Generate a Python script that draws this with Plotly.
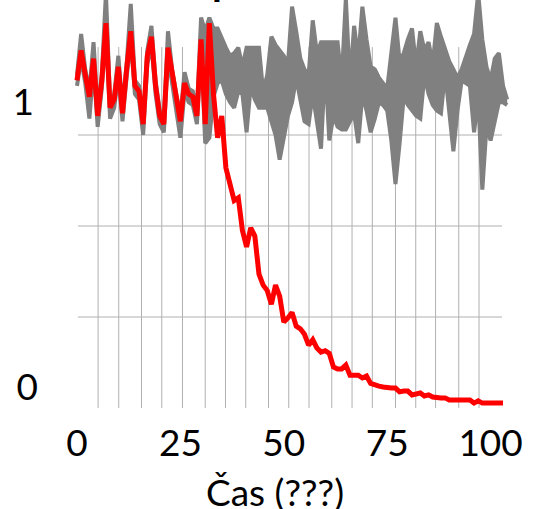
import plotly.graph_objects as go

# ---------------- data ----------------
time_red = list(range(0, 104))
time_band = list(range(0, 105))

red = [1.20, 1.31, 1.22, 1.14, 1.28, 1.07, 1.20, 1.41, 1.10, 1.13,
       1.25, 1.08, 1.24, 1.38, 1.18, 1.16, 1.04, 1.29, 1.36, 1.18,
       1.07, 1.04, 1.32, 1.22, 1.13, 1.05, 1.19, 1.15, 1.14, 1.07,
       1.35, 1.04, 1.41, 1.15, 0.99, 1.07, 0.88, 0.82, 0.76, 0.77,
       0.65, 0.59, 0.66, 0.63, 0.49, 0.45, 0.43, 0.38, 0.45, 0.41,
       0.315, 0.33, 0.35, 0.30, 0.29, 0.27, 0.23, 0.25, 0.22, 0.205,
       0.21, 0.20, 0.15, 0.143, 0.143, 0.157, 0.12, 0.12, 0.12, 0.11,
       0.117, 0.09, 0.084, 0.08, 0.077, 0.073, 0.073, 0.073, 0.059, 0.062,
       0.062, 0.048, 0.05, 0.055, 0.044, 0.048, 0.04, 0.037, 0.037, 0.037,
       0.029, 0.029, 0.029, 0.029, 0.029, 0.029, 0.018, 0.026, 0.018, 0.018,
       0.018, 0.018, 0.018, 0.018]

upper = [1.22, 1.37, 1.24, 1.16, 1.34, 1.09, 1.22, 1.52, 1.12, 1.15,
         1.29, 1.10, 1.26, 1.48, 1.20, 1.18, 1.06, 1.31, 1.40, 1.20,
         1.09, 1.06, 1.38, 1.24, 1.15, 1.07, 1.23, 1.17, 1.16, 1.09,
         1.43, 1.38, 1.43, 1.39, 1.39, 1.35, 1.32, 1.29, 1.30, 1.32,
         1.25, 1.32, 1.32, 1.32, 1.32, 1.16, 1.22, 1.36, 1.33, 1.31,
         1.29, 1.26, 1.47, 1.38, 1.28, 1.24, 1.22, 1.42, 1.30, 1.34,
         1.34, 1.34, 1.34, 1.34, 1.20, 1.50, 1.19, 1.40, 1.28, 1.47,
         1.35, 1.25, 1.24, 1.21, 1.19, 1.17, 1.30, 1.43, 1.27, 1.30,
         1.35, 1.39, 1.25, 1.38, 1.31, 1.34, 1.26, 1.41, 1.36, 1.31,
         1.27, 1.24, 1.21, 1.24, 1.29, 1.33, 1.37, 1.52, 1.35, 1.25,
         1.20, 1.28, 1.30, 1.18, 1.13]

lower = [1.18, 1.28, 1.19, 1.06, 1.25, 1.03, 1.17, 1.38, 1.06, 1.10,
         1.22, 1.05, 1.21, 1.35, 1.15, 1.13, 1.00, 1.26, 1.33, 1.15,
         1.04, 1.01, 1.29, 1.19, 1.10, 0.99, 1.16, 1.12, 1.11, 1.04,
         1.32, 0.97, 0.99, 1.14, 1.19, 1.20, 1.15, 1.12, 1.10, 1.16,
         1.15, 1.01, 1.18, 1.13, 1.10, 1.10, 1.10, 1.05, 1.00, 0.91,
         1.00, 1.07, 1.12, 1.21, 1.13, 1.05, 1.04, 1.15, 1.05, 0.95,
         1.26, 0.98, 1.07, 1.03, 1.02, 1.02, 1.05, 1.08, 0.97, 1.15,
         1.09, 1.01, 1.06, 1.12, 1.11, 1.09, 0.98, 0.82, 0.97, 1.14,
         1.11, 1.09, 1.07, 1.06, 1.22, 1.15, 1.11, 1.09, 1.08, 1.23,
         1.09, 0.94, 1.09, 1.20, 1.19, 1.18, 1.01, 1.14, 0.80, 1.03,
         0.98, 1.05, 1.12, 1.12, 1.11]

x_tick_vals = [0, 25, 50, 75, 100]
y_tick_top = [1]
y_tick_bottom = [0]
grid_x = [5.1, 10.1, 15.6, 20.5, 25.5, 31.0, 35.9, 40.8, 46.3, 51.2,
          56.1, 61.6, 66.5, 71.4, 77.0, 81.9, 86.7, 92.3, 97.2]
grid_y = [1 / 3, 2 / 3, 1.0]

x_title = "Čas (???)"
title_fragment = "p"

# ---------------- figure ----------------
FONT = "Lato, 'Open Sans', sans-serif"
GRAY = "#808080"
GRID = "#b0b0b0"

fig = go.Figure()

fig.add_trace(go.Scatter(x=time_band, y=lower, mode="lines",
                         line=dict(color=GRAY, width=4), hoverinfo="skip",
                         showlegend=False))
fig.add_trace(go.Scatter(x=time_band, y=upper, mode="lines",
                         line=dict(color=GRAY, width=4), fill="tonexty",
                         fillcolor=GRAY, hoverinfo="skip", showlegend=False))
fig.add_trace(go.Scatter(x=time_red, y=red, mode="lines",
                         line=dict(color="#ff0000", width=5),
                         showlegend=False))
# invisible trace to hold the second (overlaid) y axis
fig.add_trace(go.Scatter(x=[], y=[], yaxis="y2", showlegend=False))

shapes = []
for gx in grid_x:
    shapes.append(dict(type="line", xref="x", yref="y", x0=gx, x1=gx,
                       y0=0, y1=1.322, layer="below",
                       line=dict(color=GRID, width=1)))
for gy in grid_y:
    shapes.append(dict(type="line", xref="x", yref="y", x0=0.24, x1=102.76,
                       y0=gy, y1=gy, layer="below",
                       line=dict(color=GRID, width=1)))

yr = [0, 1.4945]
fig.update_layout(
    width=535, height=509,
    margin=dict(l=70, r=25, t=0, b=101, pad=0),
    paper_bgcolor="white", plot_bgcolor="white",
    font=dict(family=FONT, size=37, color="black"),
    shapes=shapes,
    xaxis=dict(range=[-1.69, 104.69], tickvals=x_tick_vals,
               showgrid=False, zeroline=False, showline=False, ticks="",
               ticklabelstandoff=10,
               tickfont=dict(family=FONT, size=37, color="black")),
    yaxis=dict(range=yr, tickvals=y_tick_top, ticktext=["1"],
               showgrid=False, zeroline=False, showline=False, ticks="",
               ticklabelshift=-33, ticklabelstandoff=35,
               tickfont=dict(family=FONT, size=37, color="black")),
    yaxis2=dict(range=yr, overlaying="y", side="left",
                tickvals=y_tick_bottom, ticktext=["0"],
                showgrid=False, zeroline=False, showline=False, ticks="",
                ticklabelshift=-21, ticklabelstandoff=31,
                tickfont=dict(family=FONT, size=37, color="black")),
    annotations=[
        dict(text=x_title, xref="paper", yref="paper",
             x=(274.5 - 70) / 440, y=(408 - 491) / 408,
             xanchor="center", yanchor="middle", showarrow=False,
             font=dict(family=FONT, size=37, color="black")),
        dict(text=title_fragment, xref="paper", yref="paper",
             x=(210 - 70) / 440, y=(408 - 6) / 408,
             xanchor="left", yanchor="bottom", showarrow=False,
             font=dict(family=FONT, size=40, color="black",
                       weight="bold")),
    ],
)

fig.write_html("out.html",
               config={"displayModeBar": False},
               post_script="document.body.style.margin='0';"
                           "document.body.style.overflow='hidden';")
